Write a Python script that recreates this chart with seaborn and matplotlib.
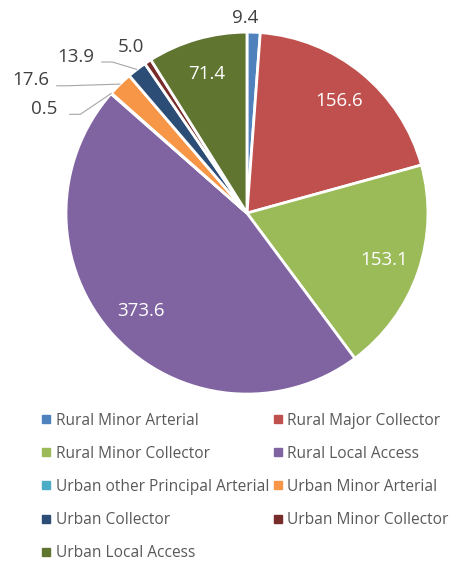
import numpy as np
import matplotlib
matplotlib.use("Agg")
import matplotlib.pyplot as plt
from matplotlib.lines import Line2D
import seaborn as sns

categories = ["Rural Minor Arterial", "Rural Major Collector", "Rural Minor Collector",
              "Rural Local Access", "Urban other Principal Arterial", "Urban Minor Arterial",
              "Urban Collector", "Urban Minor Collector", "Urban Local Access"]
values = [9.4, 156.6, 153.1, 373.6, 0.5, 17.6, 13.9, 5.0, 71.4]
colors = ["#4F81BD", "#C0504D", "#9BBB59", "#8064A2", "#4BACC6", "#F79646",
          "#2C4D75", "#772C2A", "#5F7530"]

sns.set_theme(style="white")
plt.rcParams['font.family'] = ['Open Sans', 'DejaVu Sans']

fig = plt.figure(figsize=(4.53, 5.63), dpi=100)
ax = fig.add_axes([0.1457, 0.300, 0.799, 0.643])

wedges, _ = ax.pie(values, colors=colors, startangle=90, counterclock=False,
                   wedgeprops=dict(edgecolor="white", linewidth=2))
ax.set_xlim(-1, 1)
ax.set_ylim(-1, 1)
ax.set_aspect("equal")
ax.axis("off")

# label layout: inside (white) vs outside (gray) with optional leader line
inside = {1, 2, 3, 8}
outside_layout = {  # index: (radius, angle_deg, leader)
    0: (1.08, 90.5, False),
    7: (1.12, 125.0, False),
    6: (1.28, 137.5, True),
    5: (1.40, 148.4, True),
    4: (1.26, 152.8, True),
}
gray = "#404040"
fs = 13.5
for i, (w, v) in enumerate(zip(wedges, values)):
    mid = np.deg2rad((w.theta1 + w.theta2) / 2)
    txt = f"{v:.1f}"
    if i in inside:
        r = 0.80
        ax.text(r * np.cos(mid), r * np.sin(mid), txt, color="white", fontsize=fs,
                ha="center", va="center")
    else:
        r, ang, leader = outside_layout[i]
        a = np.deg2rad(ang)
        tx, ty = r * np.cos(a), r * np.sin(a)
        ax.text(tx, ty, txt, color=gray, fontsize=fs, ha="center", va="center", clip_on=False)
        if leader:
            ex, ey = np.cos(mid), np.sin(mid)
            sx = tx + 0.14
            ax.plot([sx, sx + 0.06, ex], [ty - 0.03, ty - 0.03, ey], color="#A6A6A6",
                    lw=0.8, clip_on=False)

order = [0, 2, 4, 6, 8, 1, 3, 5, 7]
handles = [Line2D([0], [0], marker="s", linestyle="none", markersize=5.5,
                  markerfacecolor=colors[i], markeredgecolor=colors[i]) for i in order]
labels = [categories[i] for i in order]
leg = fig.legend(handles, labels, ncol=2, loc="upper left", bbox_to_anchor=(0.068, 0.278),
                 frameon=False, fontsize=11.2, handletextpad=0.0, columnspacing=-0.05,
                 labelspacing=1.1, handlelength=1.2, borderaxespad=0)
for t in leg.get_texts():
    t.set_color("#595959")

fig.savefig("out.png", dpi=100, facecolor="white")
